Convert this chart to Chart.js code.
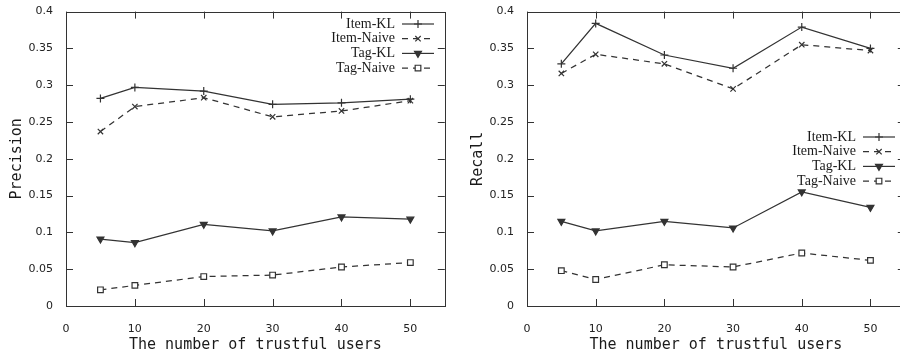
<!DOCTYPE html>
<html>
<head>
<meta charset="utf-8">
<script src="https://cdn.jsdelivr.net/npm/chart.js@4.4.1/dist/chart.umd.min.js"></script>
<style>
  html, body { margin: 0; padding: 0; background: #fff; }
  #wrap { width: 900px; height: 358px; display: flex; overflow: hidden; }
  .panel { width: 450px; height: 358px; overflow: hidden; flex: none; }
</style>
</head>
<body>
<div id="wrap">
  <div class="panel"><canvas id="chartPrecision" width="450" height="358"></canvas></div>
  <div class="panel"><canvas id="chartRecall" width="460" height="358"></canvas></div>
</div>
<script>
// number of trustful users (x)
const users = [5, 10, 20, 30, 40, 50];
const seriesNames = ['Item-KL', 'Item-Naive', 'Tag-KL', 'Tag-Naive'];

// precision (left)
const precItemKL    = [0.282, 0.297, 0.292, 0.274, 0.276, 0.281];
const precItemNaive = [0.237, 0.271, 0.283, 0.257, 0.265, 0.279];
const precTagKL     = [0.091, 0.086, 0.111, 0.102, 0.121, 0.118];
const precTagNaive  = [0.022, 0.028, 0.040, 0.042, 0.053, 0.059];

// recall (right)
const recItemKL    = [0.329, 0.384, 0.341, 0.323, 0.379, 0.350];
const recItemNaive = [0.316, 0.342, 0.329, 0.295, 0.355, 0.347];
const recTagKL     = [0.115, 0.102, 0.115, 0.106, 0.155, 0.134];
const recTagNaive  = [0.048, 0.036, 0.056, 0.053, 0.072, 0.062];

const xMax = 55, xStep = 10;
const yMax = 0.4, yStep = 0.05;

const ink = '#333';
const monoFont = "'DejaVu Sans Mono', monospace";

// line look per series, same order as seriesNames
const looks = [
  { dash: [],     point: 'cross',    radius: 4,   rot: 0,   fill: ink },
  { dash: [6, 5], point: 'crossRot', radius: 3.8, rot: 0,   fill: ink },
  { dash: [],     point: 'triangle', radius: 4,   rot: 180, fill: ink },
  { dash: [6, 5], point: 'rect',     radius: 4,   rot: 0,   fill: '#fff' }
];

function makeDatasets(lists) {
  return lists.map((vals, i) => ({
    label: seriesNames[i],
    data: users.map((u, j) => ({ x: u, y: vals[j] })),
    borderColor: ink,
    backgroundColor: looks[i].fill,
    borderWidth: 1.25,
    borderDash: looks[i].dash,
    pointStyle: looks[i].point,
    pointRadius: looks[i].radius,
    pointRotation: looks[i].rot,
    pointBorderWidth: 1.2,
    pointBorderColor: ink,
    pointBackgroundColor: looks[i].fill,
    tension: 0
  }));
}

// frame with gnuplot style inward ticks on all four sides
const frameTicks = {
  id: 'frameTicks',
  afterDatasetsDraw(chart) {
    const { ctx, chartArea: a, scales } = chart;
    const len = 7;
    ctx.save();
    ctx.strokeStyle = ink;
    ctx.lineWidth = 1;
    ctx.setLineDash([]);
    ctx.beginPath();
    scales.x.ticks.forEach(t => {
      const px = Math.round(scales.x.getPixelForValue(t.value)) + 0.5;
      ctx.moveTo(px, a.bottom); ctx.lineTo(px, a.bottom - len);
      ctx.moveTo(px, a.top); ctx.lineTo(px, a.top + len);
    });
    scales.y.ticks.forEach(t => {
      const py = Math.round(scales.y.getPixelForValue(t.value)) + 0.5;
      ctx.moveTo(a.left, py); ctx.lineTo(a.left + len, py);
      ctx.moveTo(a.right, py); ctx.lineTo(a.right - len, py);
    });
    ctx.stroke();
    ctx.strokeRect(Math.round(a.left) + 0.5, Math.round(a.top) + 0.5,
                   Math.round(a.right - a.left), Math.round(a.bottom - a.top));
    ctx.restore();
  }
};

// legend: text right aligned, then a line sample with its marker
const sampleLegend = {
  id: 'sampleLegend',
  afterDraw(chart, args, opts) {
    const { ctx } = chart;
    ctx.save();
    ctx.font = "14px 'Liberation Serif', serif";
    ctx.textAlign = 'right';
    ctx.textBaseline = 'middle';
    chart.data.datasets.forEach((ds, i) => {
      const y = opts.y + i * opts.dy;
      ctx.fillStyle = '#1a1a1a';
      ctx.fillText(ds.label, opts.textRight, y);
      ctx.strokeStyle = ink;
      ctx.lineWidth = 1.2;
      ctx.setLineDash(ds.borderDash);
      ctx.beginPath();
      ctx.moveTo(opts.textRight + 7, y);
      ctx.lineTo(opts.textRight + 39, y);
      ctx.stroke();
      ctx.setLineDash([]);
      ctx.fillStyle = ds.pointBackgroundColor;
      Chart.helpers.drawPoint(ctx, {
        pointStyle: ds.pointStyle, rotation: ds.pointRotation,
        radius: ds.pointRadius, borderWidth: 1.2
      }, opts.textRight + 23, y);
    });
    ctx.restore();
  }
};

function makeChart(id, lists, yTitle, axisW, titlePad, padRight, legendPos) {
  return new Chart(document.getElementById(id), {
    type: 'line',
    data: { datasets: makeDatasets(lists) },
    options: {
      responsive: false,
      animation: false,
      layout: { padding: { top: 9, right: padRight, left: 0, bottom: 0 } },
      plugins: { legend: { display: false }, tooltip: { enabled: false }, sampleLegend: legendPos },
      scales: {
        x: {
          type: 'linear', min: 0, max: xMax,
          grid: { display: false }, border: { display: false },
          afterBuildTicks: s => { s.ticks = s.ticks.filter(t => t.value % xStep === 0); },
          afterFit: s => { s.height = 52; },
          ticks: { stepSize: xStep, padding: 9, color: '#222', maxRotation: 0,
                   font: { family: 'DejaVu Sans', size: 11 } },
          title: { display: true, text: 'The number of trustful users', color: '#1a1a1a',
                   padding: { top: 0, bottom: 4 }, font: { family: monoFont, size: 15 } }
        },
        y: {
          min: 0, max: yMax,
          grid: { display: false }, border: { display: false },
          afterFit: s => { s.width = axisW; },
          ticks: { stepSize: yStep, padding: 5, color: '#222',
                   font: { family: 'DejaVu Sans', size: 11 },
                   callback: v => String(+v.toFixed(2)) },
          title: { display: true, text: yTitle, color: '#1a1a1a',
                   padding: { top: titlePad, bottom: 0 }, font: { family: monoFont, size: 15 } }
        }
      }
    },
    plugins: [frameTicks, sampleLegend]
  });
}

makeChart('chartPrecision', [precItemKL, precItemNaive, precTagKL, precTagNaive],
  'Precision', 66, 8, 2, { textRight: 395, y: 24, dy: 14.7 });
makeChart('chartRecall', [recItemKL, recItemNaive, recTagKL, recTagNaive],
  'Recall', 77, 19, 2, { textRight: 406, y: 137, dy: 14.7 });
</script>
</body>
</html>
